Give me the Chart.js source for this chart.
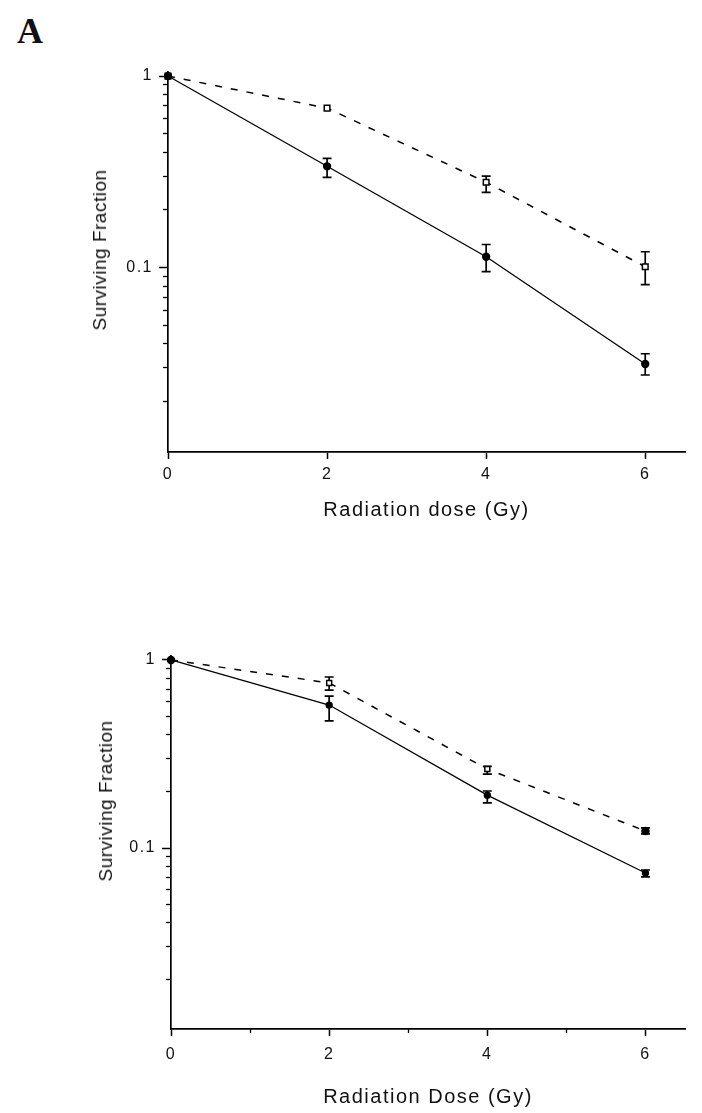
<!DOCTYPE html>
<html><head><meta charset="utf-8">
<script src="https://cdn.jsdelivr.net/npm/chart.js@4/dist/chart.umd.min.js"></script>
<style>
body{margin:0;background:#fff;width:702px;height:1113px;position:relative;overflow:hidden;font-family:"Liberation Sans",Arial,sans-serif}
.box{position:absolute;left:0;width:702px}
#top{top:0;height:560px}
#bot{top:560px;height:553px}
.ylab{position:absolute;font-size:19px;letter-spacing:0.5px;color:#111;white-space:nowrap;transform:translate(-50%,-50%) rotate(-90deg)}
#A{position:absolute;left:17px;top:10px;font:bold 36px "Liberation Serif","Times New Roman",serif;color:#111}
</style></head><body>
<div id="A">A</div>
<div class="box" id="top"><canvas id="c1"></canvas></div>
<div class="box" id="bot"><canvas id="c2"></canvas></div>
<div class="ylab" style="left:100px;top:250px">Surviving Fraction</div>
<div class="ylab" style="left:106px;top:801px">Surviving Fraction</div>
<script>
// doses (Gy)
const doses=[0,2,4,6];
const xTicks=[0,2,4,6];
const xMinor=[1,3,5];
const yMajor=[1,0.1];
const yMinor=[0.02,0.03,0.04,0.05,0.06,0.07,0.08,0.09,0.2,0.3,0.4,0.5,0.6,0.7,0.8,0.9];

// panel A, top
const topSolid=[1,0.338,0.114,0.0314];
const topSolidLo=[null,0.296,0.0953,0.0275];
const topSolidHi=[null,0.372,0.132,0.0355];
const topDashed=[1,0.68,0.279,0.101];
const topDashedLo=[null,null,0.247,0.0815];
const topDashedHi=[null,null,0.30,0.121];

// panel A, bottom
const botSolid=[1,0.576,0.191,0.0736];
const botSolidLo=[null,0.474,0.174,0.0703];
const botSolidHi=[null,0.643,0.201,0.0764];
const botDashed=[1,0.755,0.263,0.123];
const botDashedLo=[null,0.692,0.247,0.119];
const botDashedHi=[null,0.812,0.272,0.128];

const F='"Liberation Sans", Arial, sans-serif';
const YMIN=0.0109, YMAX=1.05;

const spacing={id:'spacing',beforeDraw(chart){chart.ctx.letterSpacing='1.5px';}};
const errBars={id:'errBars',beforeDatasetsDraw(chart){
  const ctx=chart.ctx, ys=chart.scales.y;
  chart.data.datasets.forEach((ds,i)=>{
    const meta=chart.getDatasetMeta(i);
    meta.data.forEach((pt,j)=>{
      if(ds.lo[j]==null)return;
      const a=ys.getPixelForValue(ds.lo[j]), b=ys.getPixelForValue(ds.hi[j]);
      ctx.save();ctx.strokeStyle='#000';ctx.lineWidth=1.7;ctx.beginPath();
      ctx.moveTo(pt.x,a);ctx.lineTo(pt.x,b);
      ctx.moveTo(pt.x-4.5,a);ctx.lineTo(pt.x+4.5,a);
      ctx.moveTo(pt.x-4.5,b);ctx.lineTo(pt.x+4.5,b);
      ctx.stroke();ctx.restore();
    });
  });
}};

function pts(vals){return doses.map((d,i)=>({x:d,y:vals[i]}));}

function makeChart(id,solid,sLo,sHi,dashed,dLo,dHi,dStyles,dFills,o){
  return new Chart(document.getElementById(id),{
    type:'line',
    data:{datasets:[
      {data:pts(solid),lo:sLo,hi:sHi,borderColor:'#000',borderWidth:1.3,pointStyle:'circle',pointRadius:o.r,
       pointBackgroundColor:'#000',pointBorderColor:'#000',clip:false,tension:0},
      {data:pts(dashed),lo:dLo,hi:dHi,borderColor:'#000',borderWidth:1.5,borderDash:[7,9],pointStyle:dStyles,pointRadius:o.dr,
       pointBackgroundColor:dFills,pointBorderColor:'#000',pointBorderWidth:1.5,clip:false,tension:0}
    ]},
    options:{
      responsive:true,maintainAspectRatio:false,animation:false,
      layout:{padding:{left:0,top:o.top,right:17,bottom:0}},
      plugins:{legend:{display:false},tooltip:{enabled:false}},
      scales:{
        x:{type:'linear',min:0,max:6.5,position:'bottom',weight:1,
          afterBuildTicks:s=>{s.ticks=xTicks.map(v=>({value:v}));},
          afterFit:s=>{s.height=o.xh;},
          grid:{drawOnChartArea:false,color:'#000',tickLength:7,tickWidth:1.5},
          border:{color:'#000',width:1.7},
          ticks:{color:'#111',font:{size:16,family:F},padding:o.tp,maxRotation:0,autoSkip:false,callback:v=>String(v)},
          title:{display:true,text:o.xTitle,color:'#111',font:{size:20,family:F},padding:{top:0,bottom:o.tpb}}},
        xm:{type:'linear',min:0,max:6.5,position:'bottom',weight:0,display:o.minorX,
          afterBuildTicks:s=>{s.ticks=xMinor.map(v=>({value:v}));},
          afterFit:s=>{s.height=0;},
          grid:{drawOnChartArea:false,color:'#000',tickLength:4,tickWidth:1.3},
          border:{display:false},ticks:{display:false}},
        y:{type:'logarithmic',min:YMIN,max:YMAX,position:'left',weight:1,
          afterBuildTicks:s=>{s.ticks=yMajor.map(v=>({value:v}));},
          afterFit:s=>{s.width=o.left;},
          grid:{drawOnChartArea:false,color:'#000',tickLength:9,tickWidth:1.5},
          border:{color:'#000',width:1.7},
          ticks:{color:'#111',font:{size:16,family:F},padding:6,callback:v=>String(v)}},
        ym:{type:'logarithmic',min:YMIN,max:YMAX,position:'left',weight:0,
          afterBuildTicks:s=>{s.ticks=yMinor.map(v=>({value:v}));},
          afterFit:s=>{s.width=0;},
          grid:{drawOnChartArea:false,color:'#000',tickLength:5,tickWidth:1.3},
          border:{display:false},ticks:{display:false}}
      }
    },
    plugins:[spacing,errBars]
  });
}

makeChart('c1',topSolid,topSolidLo,topSolidHi,topDashed,topDashedLo,topDashedHi,
  ['rect','rect','rect','rect'],['#fff','#fff','#fff','#fff'],
  {top:72,xh:108,left:168,tpb:38,tp:6,r:3.5,dr:4,minorX:false,xTitle:'Radiation dose (Gy)'});

makeChart('c2',botSolid,botSolidLo,botSolidHi,botDashed,botDashedLo,botDashedHi,
  ['circle','rect','rect','circle'],['#fff','#fff','#fff','#000'],
  {top:96,xh:84,left:171,tpb:4,tp:9,r:3,dr:3.5,minorX:true,xTitle:'Radiation Dose (Gy)'});
</script>
</body></html>
